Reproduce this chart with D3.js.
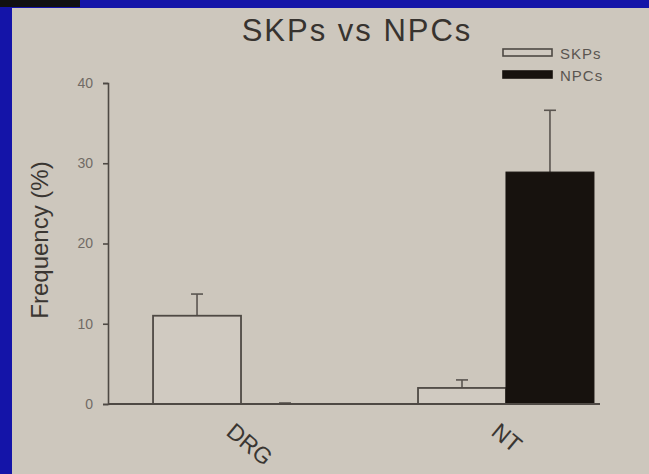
<!DOCTYPE html>
<html><head><meta charset="utf-8">
<script src="https://cdn.jsdelivr.net/npm/d3@7"></script>
<style>html,body{margin:0;padding:0;background:#cdc7bd;overflow:hidden}</style>
</head><body>
<svg id="c" width="649" height="474"></svg>
<script>
const categories = ["DRG", "NT"];
const seriesNames = ["SKPs", "NPCs"];
const skpsValues = [11.0, 2.0];
const skpsErrors = [2.7, 1.0];
const npcsValues = [0.0, 28.9];
const npcsErrors = [0.0, 7.7];
const yTicks = [0, 10, 20, 30, 40];

const svg = d3.select("#c");
const W = 649, H = 474;
const FONT = "Liberation Sans, Arial, sans-serif";
svg.append("rect").attr("width", W).attr("height", H).attr("fill", "#cdc7bd");
// slide frame
svg.append("rect").attr("x", 0).attr("y", 0).attr("width", W).attr("height", 8).attr("fill", "#1414a8");
svg.append("rect").attr("x", 0).attr("y", 0).attr("width", 12).attr("height", H).attr("fill", "#1414a8");
svg.append("rect").attr("x", 0).attr("y", 0).attr("width", 80).attr("height", 7).attr("fill", "#111");

const y = d3.scaleLinear().domain([0, 40]).range([404, 83]);
const x0 = d3.scaleBand().domain(categories).range([108, 639]).paddingInner(0.336).paddingOuter(0.17);
const x1 = d3.scaleBand().domain(seriesNames).range([0, x0.bandwidth()]);

const axisCol = "#4e4944";
// title
svg.append("text").attr("x", 357).attr("y", 41).attr("text-anchor", "middle")
  .attr("font-family", FONT).attr("font-size", 31).attr("letter-spacing", 2)
  .attr("fill", "#37332f").text("SKPs vs NPCs");

// y axis
const ya = svg.append("g").attr("transform", "translate(108,0)")
  .call(d3.axisLeft(y).tickValues(yTicks).tickSize(5).tickPadding(10).tickFormat(d3.format("d")));
ya.select(".domain").attr("stroke", axisCol).attr("stroke-width", 1.6);
ya.selectAll(".tick line").attr("stroke", axisCol).attr("stroke-width", 1.6);
ya.selectAll(".tick text").attr("fill", "#716b65").attr("font-size", 14)
  .attr("font-family", FONT);

// y label
svg.append("text").attr("transform", "translate(48,240) rotate(-90)").attr("text-anchor", "middle")
  .attr("font-family", FONT).attr("font-size", 24)
  .attr("fill", "#3a3632").text("Frequency (%)");

const data = categories.map((c, i) => ({cat: c, vals: [
  {s: "SKPs", v: skpsValues[i], e: skpsErrors[i]},
  {s: "NPCs", v: npcsValues[i], e: npcsErrors[i]}]}));

const g = svg.append("g");
data.forEach(d => {
  d.vals.forEach(b => {
    const bx = x0(d.cat) + x1(b.s);
    const cx = bx + x1.bandwidth() / 2;
    // error bar
    g.append("line").attr("x1", cx).attr("x2", cx).attr("y1", y(b.v)).attr("y2", y(b.v + b.e))
      .attr("stroke", "#5a5550").attr("stroke-width", 1.6);
    g.append("line").attr("x1", cx - 6).attr("x2", cx + 6).attr("y1", y(b.v + b.e) - (b.v === 0 ? 1 : 0)).attr("y2", y(b.v + b.e) - (b.v === 0 ? 1 : 0))
      .attr("stroke", "#5a5550").attr("stroke-width", 1.6);
    if (b.v <= 0) return;
    if (b.s === "SKPs") {
      g.append("rect").attr("x", bx).attr("y", y(b.v)).attr("width", x1.bandwidth()).attr("height", y(0) - y(b.v))
        .attr("fill", "#d0cac1").attr("stroke", "#4e4944").attr("stroke-width", 1.8);
    } else {
      g.append("rect").attr("x", bx).attr("y", y(b.v)).attr("width", x1.bandwidth()).attr("height", y(0) - y(b.v))
        .attr("fill", "#17120e").attr("stroke", "#17120e").attr("stroke-width", 1);
    }
  });
});

// x axis line
svg.append("line").attr("x1", 108).attr("x2", 600).attr("y1", y(0)).attr("y2", y(0))
  .attr("stroke", axisCol).attr("stroke-width", 1.8);

// x labels
categories.forEach(c => {
  const cx = x0(c) + x0.bandwidth() / 2;
  svg.append("text").attr("transform", `translate(${cx - 16},${434}) rotate(40)`)
    .attr("font-family", FONT).attr("font-size", 23)
    .attr("fill", "#3a3632").text(c);
});

// legend
const leg = svg.append("g");
seriesNames.forEach((s, i) => {
  const ly = 49 + i * 22;
  leg.append("rect").attr("x", 503).attr("y", ly).attr("width", 49).attr("height", 7)
    .attr("fill", s === "SKPs" ? "#d0cac1" : "#17120e").attr("stroke", s === "SKPs" ? "#4e4944" : "#17120e").attr("stroke-width", 1.6);
  leg.append("text").attr("x", 560).attr("y", ly + 10).attr("font-family", FONT)
    .attr("font-size", 15).attr("letter-spacing", 1).attr("fill", "#5a5550").text(s);
});
</script>
</body></html>
